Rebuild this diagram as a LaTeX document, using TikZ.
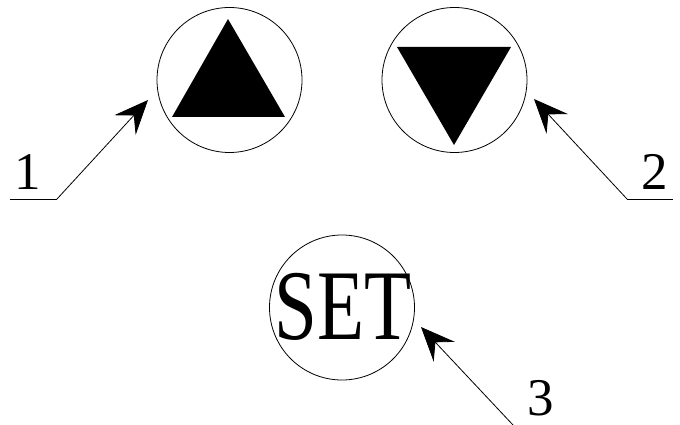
\documentclass[tikz,border=0pt]{standalone}
\usepackage{fontspec}
\setmainfont{Liberation Serif}
\usetikzlibrary{arrows.meta,calc}
\begin{document}
\begin{tikzpicture}[x=1pt,y=-1pt,
  btn/.style={circle,draw,line width=0.8pt,minimum size=145pt,inner sep=0pt},
  lead/.style={line width=0.8pt},
  arr/.style={lead,-{Stealth[length=34pt,width=29pt,inset=13pt]}},
  num/.style={font=\fontsize{53}{53}\selectfont,inner sep=0pt}]
\useasboundingbox (0,0) rectangle (680,425);
% buttons
\node[btn] (up) at (229.5,80) {};
\node[btn] (down) at (454.5,80) {};
\node[btn] (set) at (342,307.5) {};
\node[inner sep=0pt] (settext) at (343,307) {\fontsize{100}{100}\selectfont\scalebox{0.77}[1]{SET}};
% triangles
\fill ($(up)+(-1.5,-61)$) -- ($(up)+(-57.5,37)$) -- ($(up)+(55.5,37)$) -- cycle;
\fill ($(down)+(-57.5,-33)$) -- ($(down)+(56.5,-33)$) -- ($(down)+(-0.5,65)$) -- cycle;
% labels
\node[num] (l1) at (28,172) {1};
\node[num] (l2) at (655,172) {2};
\node[num] (l3) at (541,398) {3};
% leader coordinates
\coordinate (a1) at (10,199);
\coordinate (b1) at (57,199);
\coordinate (t1) at (148,100);
\coordinate (a2) at (673,199);
\coordinate (b2) at (627,199);
\coordinate (t2) at (534,99);
\coordinate (b3) at (513,425);
\coordinate (t3) at (421,327);
\draw[lead] (a1) -- (b1);
\draw[arr] (b1) -- (t1);
\draw[lead] (a2) -- (b2);
\draw[arr] (b2) -- (t2);
\draw[arr] (b3) -- (t3);
\end{tikzpicture}
\end{document}
